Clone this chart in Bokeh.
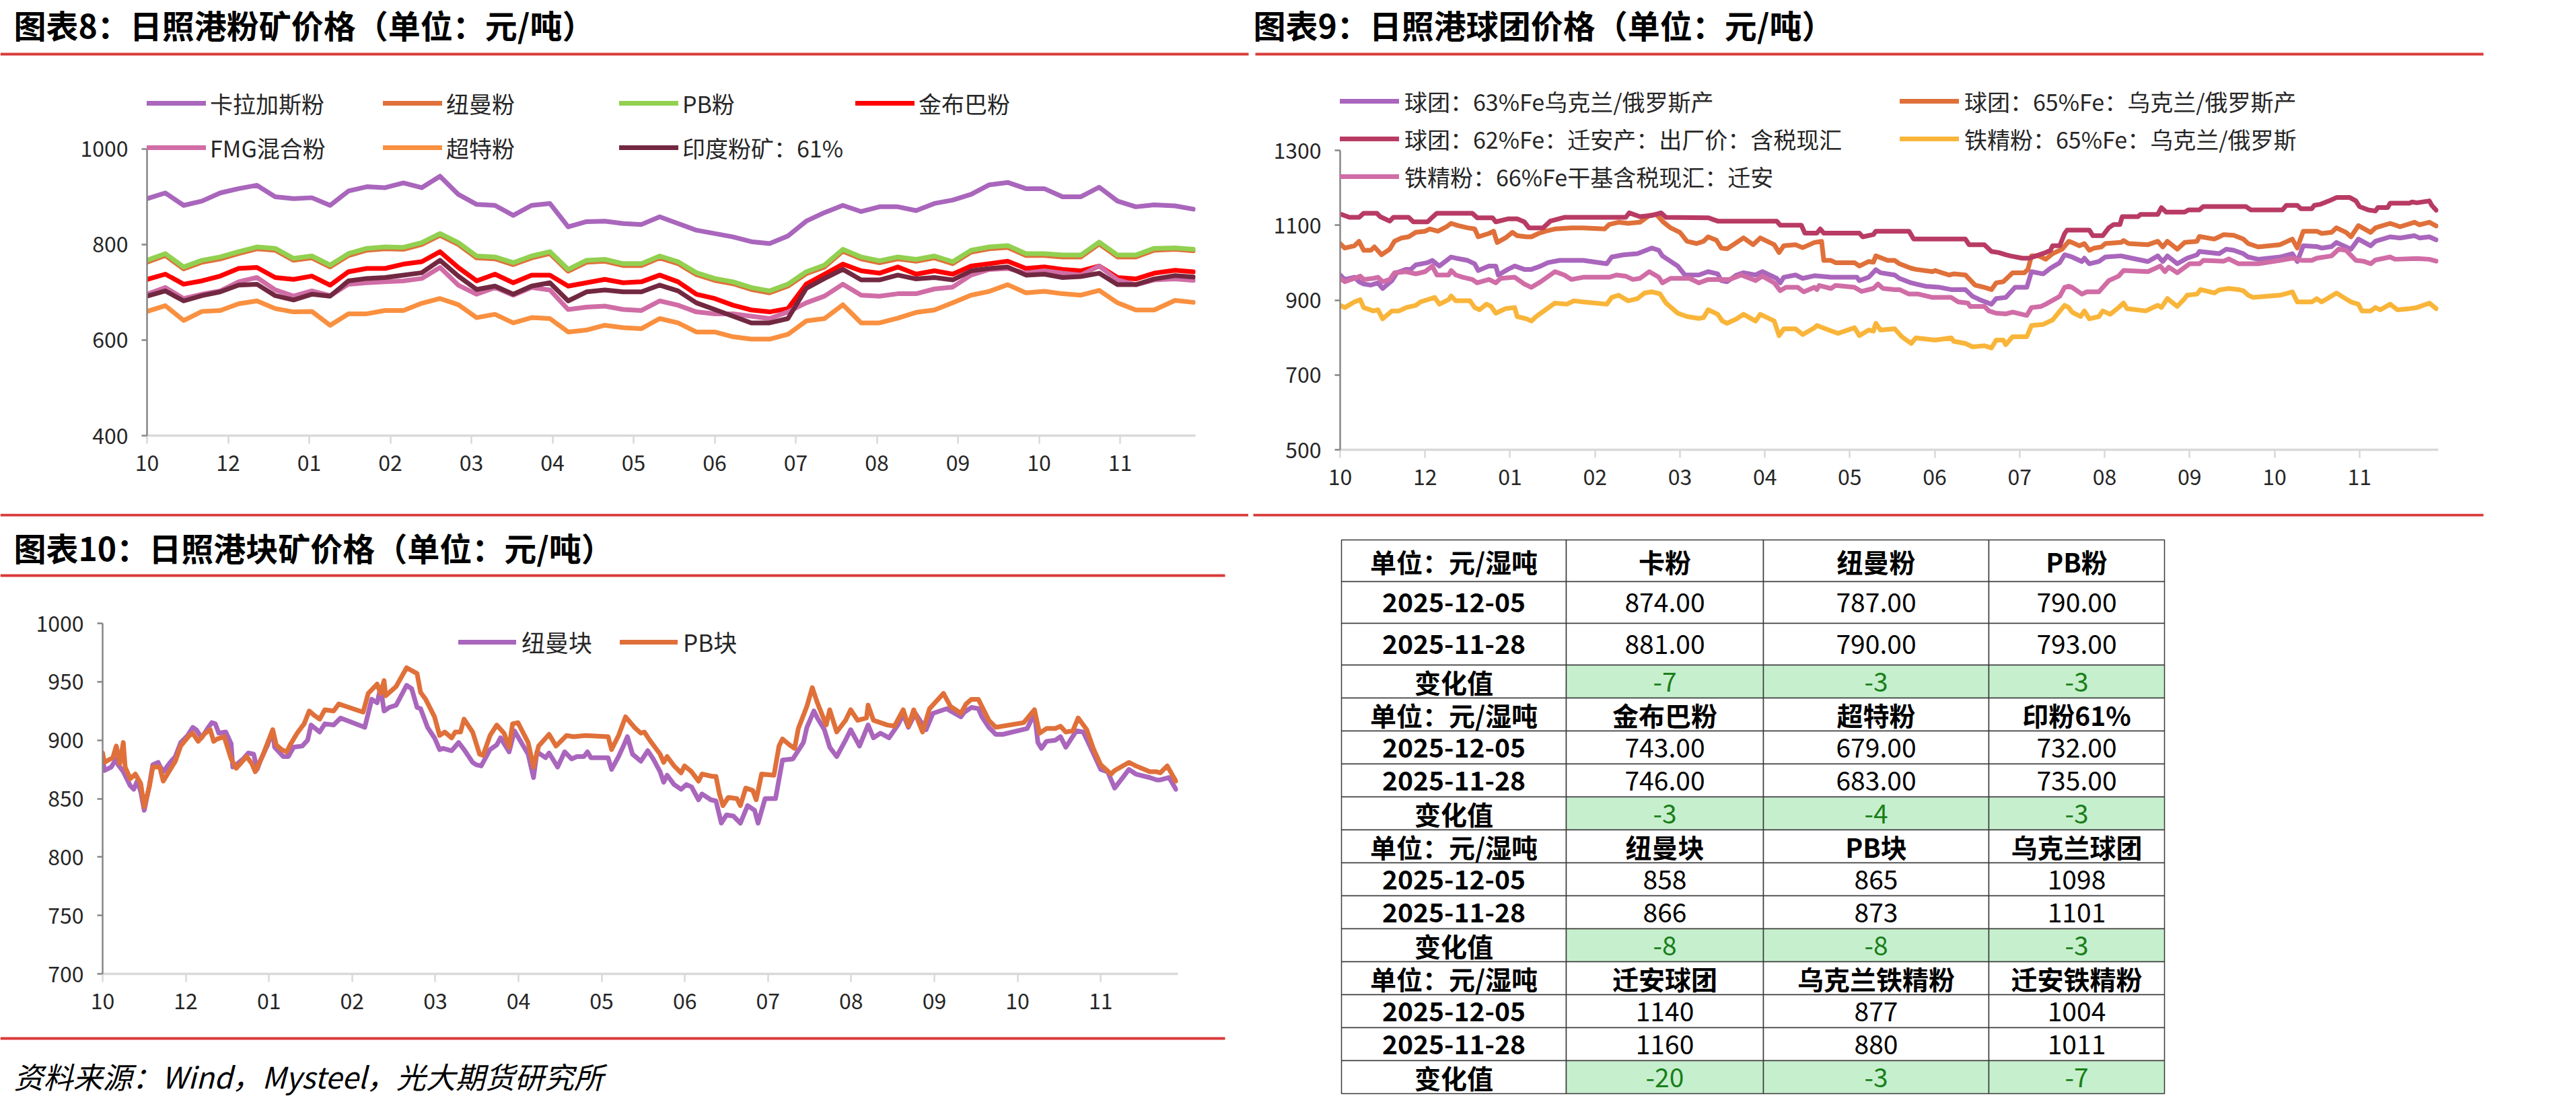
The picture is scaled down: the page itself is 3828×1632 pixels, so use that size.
from bokeh.plotting import figure
from bokeh.layouts import column, row
from bokeh.models import Range1d, Legend, LegendItem, FixedTicker
from bokeh.core.properties import value
from bokeh.embed import file_html
from bokeh.resources import INLINE

FONT = "Noto Sans CJK SC"

# ---------------- data ----------------
# day offsets from 2024-10-31 (last two points: 2025-11-28, 2025-12-05)
DAYS = [0, 7, 14, 21, 28, 35, 42, 49, 56, 63, 70, 77, 84, 91, 98, 105, 112, 119, 126,
        133, 140, 147, 154, 161, 168, 175, 182, 189, 196, 203, 210, 217, 224, 231, 238,
        245, 252, 259, 266, 273, 280, 287, 294, 301, 308, 315, 322, 329, 336, 343, 350,
        357, 364, 371, 378, 385, 393, 400]
X_TICKS = [0, 31, 62, 93, 124, 155, 186, 217, 248, 279, 310, 341, 372]
X_LABELS = ["10", "12", "01", "02", "03", "04", "05", "06", "07", "08", "09", "10", "11"]

# chart 8: fines (weekly readings)
KARAJAS = [896, 908, 882, 891, 908, 917, 924, 900, 896, 898, 882, 912, 921, 919, 929, 919, 943, 905, 884,
           882, 861, 882, 886, 837, 848, 849, 844, 842, 858, 844, 830, 823, 816, 806, 802, 818, 849, 867, 882,
           869, 879, 879, 871, 886, 893, 905, 925, 930, 917, 917, 900, 900, 920, 891, 879, 883,
           881, 874]
NEWMAN_F = [763, 777, 749, 763, 770, 781, 791, 788, 767, 772, 753, 777, 788, 791, 790, 800, 819, 800, 772,
            770, 758, 772, 781, 744, 763, 765, 756, 756, 772, 760, 737, 725, 718, 706, 699, 713, 739, 753, 786,
            770, 762, 770, 765, 772, 760, 784, 791, 794, 777, 777, 774, 774, 801, 774, 774, 788,
            790, 787]
PB_F = [767, 781, 753, 767, 774, 785, 795, 792, 771, 776, 757, 781, 792, 795, 794, 804, 823, 804, 776,
        774, 762, 776, 785, 748, 767, 769, 760, 760, 776, 764, 741, 729, 722, 710, 703, 717, 743, 757, 790,
        774, 766, 774, 769, 776, 764, 788, 795, 798, 781, 781, 778, 778, 805, 778, 778, 792,
        793, 790]
JMB_F = [727, 738, 717, 724, 734, 750, 752, 731, 727, 734, 715, 743, 750, 750, 759, 764, 785, 752, 724,
         738, 720, 736, 736, 713, 720, 727, 720, 722, 736, 722, 696, 687, 673, 663, 659, 666, 717, 738, 759,
         745, 740, 753, 738, 745, 738, 755, 760, 765, 750, 753, 748, 745, 755, 731, 728, 740,
         746, 743]
FMG_F = [696, 710, 687, 696, 703, 722, 731, 705, 692, 703, 693, 717, 720, 722, 724, 729, 752, 715, 696,
         710, 694, 710, 705, 664, 669, 671, 664, 662, 682, 673, 659, 655, 655, 650, 645, 659, 678, 692, 717,
         694, 692, 697, 697, 707, 711, 736, 748, 750, 740, 745, 740, 736, 755, 726, 716, 726,
         728, 725]
SUPER_F = [660, 672, 641, 660, 662, 676, 682, 666, 659, 660, 631, 655, 655, 662, 662, 677, 687, 674, 647,
           654, 636, 647, 645, 617, 621, 631, 626, 624, 645, 636, 617, 617, 607, 602, 602, 612, 640, 645, 674,
           636, 636, 646, 658, 663, 678, 694, 702, 716, 699, 702, 697, 694, 704, 678, 663, 663,
           683, 679]
INDIA_F = [692, 703, 682, 693, 701, 715, 717, 693, 684, 696, 692, 724, 729, 731, 736, 741, 767, 734, 706,
           713, 696, 713, 720, 682, 701, 705, 701, 701, 715, 703, 678, 664, 650, 636, 636, 645, 708, 729, 748,
           726, 726, 736, 728, 731, 726, 745, 750, 753, 736, 738, 731, 733, 740, 716, 716, 728,
           735, 732]
FINES_NAMES = ["卡拉加斯粉", "纽曼粉", "PB粉", "金布巴粉", "FMG混合粉", "超特粉", "印度粉矿：61%"]
FINES_COLORS = ["#A966BC", "#E0703A", "#92D050", "#FF0000", "#D06DA6", "#F99040", "#722841"]

# chart 9: pellets / concentrate, (day, price) read at the turning points of each line
PEL_63 = [(0, 967), (1.7, 955), (5.2, 961), (6.9, 949), (8.6, 943), (11.2, 940), (13.8, 946), (15.5, 931),
          (18.9, 952), (20.7, 973), (24.1, 982), (25.8, 982), (27.6, 994), (31.9, 1000), (33.6, 1006),
          (36.2, 991), (40.5, 1015), (42.2, 1012), (46.5, 1006), (49.1, 997), (50.4, 979), (54.3, 991),
          (56.8, 991), (57.7, 967), (61.2, 982), (63.7, 991), (67.2, 982), (69.8, 982), (73.2, 991),
          (75.8, 1000), (80.1, 1006), (88.7, 1006), (97.3, 997), (99.1, 1015), (103.4, 1021), (108.5, 1024),
          (113.7, 1039), (116.3, 1033), (117.6, 1018), (123.2, 991), (125.8, 967), (130.9, 967),
          (134.3, 976), (137.8, 970), (139.1, 952), (141.2, 949), (144.7, 967), (147.2, 973), (151.6, 967),
          (154.1, 976), (159.3, 958), (160.6, 946), (161.9, 961), (166.2, 967), (168.8, 958), (173.1, 965),
          (179.1, 961), (188.6, 961), (189.5, 952), (192.9, 961), (195.5, 981), (197.2, 973), (202.4, 967),
          (204.1, 958), (208.4, 946), (210.1, 943), (213.6, 937), (218.8, 934), (223.0, 928), (228.2, 928),
          (230.8, 910), (233.4, 901), (237.7, 889), (239.4, 904), (242.9, 907), (246.3, 934), (250.6, 934),
          (252.3, 976), (256.6, 970), (259.2, 985), (262.6, 1000), (264.4, 1021), (265.9, 1018),
          (267.1, 1015), (270.7, 1003), (271.6, 1012), (273.4, 997), (276.9, 1003), (279.2, 1015),
          (285.0, 1018), (286.8, 1015), (294.8, 1003), (298.4, 1018), (300.2, 1003), (301.9, 1018),
          (305.5, 997), (309.1, 1012), (312.7, 1021), (313.6, 1030), (320.8, 1024), (323.4, 1036),
          (326.1, 1033), (329.6, 1024), (331.4, 1015), (335.0, 1009), (343.0, 1015), (347.5, 1024),
          (349.3, 1003), (351.5, 1045), (356.4, 1043), (358.2, 1039), (361.8, 1043), (363.6, 1054),
          (366.2, 1045), (368.9, 1036), (371.6, 1063), (376.1, 1045), (377.8, 1057), (383.2, 1069),
          (386.8, 1066), (392.1, 1072), (393.9, 1066), (397.5, 1069), (400, 1061)]
PEL_65 = [(0, 1051), (1.7, 1039), (5.2, 1045), (6.9, 1057), (8.6, 1033), (11.2, 1033), (12.5, 1042),
          (15.1, 1021), (18.1, 1036), (19.8, 1057), (22.4, 1066), (25.0, 1069), (27.6, 1081), (31.0, 1084),
          (32.7, 1090), (35.7, 1084), (38.8, 1096), (40.5, 1105), (43.1, 1099), (46.5, 1093), (49.1, 1090),
          (50.4, 1069), (54.3, 1078), (56.0, 1084), (57.3, 1054), (60.3, 1066), (62.9, 1081), (64.6, 1072),
          (68.0, 1069), (69.8, 1069), (72.4, 1078), (74.9, 1084), (78.4, 1090), (84.4, 1093), (88.7, 1093),
          (96.5, 1090), (98.2, 1102), (101.6, 1108), (105.1, 1105), (109.4, 1108), (112.8, 1126),
          (115.4, 1129), (118.0, 1108), (120.6, 1093), (124.0, 1081), (126.6, 1057), (130.1, 1051),
          (132.6, 1057), (134.3, 1069), (137.3, 1060), (139.1, 1039), (141.2, 1037), (144.7, 1054),
          (147.2, 1066), (150.7, 1048), (153.3, 1066), (158.4, 1048), (160.2, 1027), (161.9, 1045),
          (166.2, 1048), (168.8, 1040), (173.1, 1054), (175.7, 1057), (176.5, 1006), (179.1, 1006),
          (180.8, 1000), (187.7, 1000), (189.5, 991), (192.9, 1003), (194.6, 1001), (195.5, 1018),
          (199.8, 1006), (202.4, 1006), (204.1, 997), (208.4, 985), (210.1, 982), (216.2, 976), (217.1, 979),
          (222.2, 967), (223.9, 970), (228.2, 967), (231.7, 940), (235.1, 934), (237.7, 928), (239.4, 946),
          (242.0, 949), (245.4, 973), (249.7, 973), (251.0, 982), (252.3, 1018), (254.9, 1018), (257.5, 1009),
          (260.0, 1024), (263.5, 1036), (265.9, 1057),
          (267.1, 1054), (269.8, 1045), (271.6, 1051), (273.4, 1033), (275.2, 1039), (277.8, 1042),
          (279.2, 1051), (285.0, 1054), (285.9, 1059), (287.7, 1051), (294.8, 1048), (298.4, 1057),
          (300.2, 1042), (301.9, 1057), (305.5, 1036), (308.2, 1054), (312.7, 1057), (313.6, 1070),
          (319.0, 1063), (320.8, 1069), (322.5, 1075), (326.1, 1073), (329.6, 1063), (331.4, 1051),
          (335.0, 1042), (343.0, 1048), (347.5, 1063), (349.3, 1039), (351.5, 1084), (356.4, 1084),
          (358.2, 1078), (361.8, 1081), (363.6, 1093), (367.1, 1081), (368.9, 1069), (371.6, 1099),
          (376.1, 1081), (377.8, 1093), (383.2, 1105), (386.8, 1096), (392.1, 1108), (393.9, 1101),
          (397.5, 1108), (400, 1098)]
PEL_62_QA = [(0, 1130), (3.4, 1121), (6.9, 1121), (8.6, 1132), (13.4, 1132), (14.6, 1123), (18.1, 1111),
             (19.4, 1121), (25.0, 1121), (26.7, 1109), (31.9, 1109), (33.6, 1121), (35.3, 1132), (48.2, 1132),
             (50.0, 1120), (55.6, 1120), (56.8, 1109), (61.2, 1117), (64.6, 1117), (67.2, 1109), (68.9, 1093),
             (74.1, 1093), (76.7, 1111), (81.8, 1121), (104.2, 1121), (105.5, 1133), (109.4, 1123),
             (113.7, 1126), (117.1, 1133), (118.9, 1121),
             (134.3, 1120), (137.8, 1111), (159.3, 1111), (160.6, 1100), (168.3, 1100), (169.6, 1079),
             (174.0, 1079), (175.2, 1090), (176.5, 1079), (189.5, 1079), (190.7, 1069), (194.6, 1075),
             (195.5, 1084), (207.6, 1084), (209.3, 1063), (228.2, 1063), (229.5, 1048), (235.1, 1048),
             (237.7, 1030), (240.3, 1027), (242.9, 1021), (244.6, 1018), (248.9, 1012), (251.5, 1012),
             (254.0, 1018), (257.5, 1027), (259.2, 1033), (260.0, 1045), (262.6, 1045), (264.4, 1078),
             (265.3, 1087), (273.4, 1087), (274.7, 1072), (278.3, 1072), (280.5, 1093), (282.3, 1102),
             (284.6, 1102), (285.4, 1123), (291.2, 1123), (292.1, 1129), (298.4, 1129), (299.7, 1147),
             (301.5, 1135), (308.2, 1135), (309.6, 1141), (313.6, 1141), (315.0, 1150), (330.5, 1150),
             (332.3, 1141), (343.9, 1141), (345.3, 1153), (349.3, 1153), (350.6, 1144), (354.6, 1144),
             (355.5, 1153), (357.8, 1156), (360.9, 1165), (363.6, 1174), (368.5, 1174), (370.7, 1165),
             (372.0, 1150), (375.2, 1141), (377.8, 1138), (378.7, 1147), (382.3, 1147), (383.2, 1159),
             (390.3, 1159), (391.2, 1162), (393.0, 1160), (397.5, 1165), (398.4, 1153), (400, 1140)]
CONC_65 = [(0, 886), (1.7, 880), (5.2, 895), (7.3, 901), (8.6, 880), (12.1, 871), (13.8, 874), (15.5, 850),
           (18.9, 871), (21.5, 871), (24.1, 880), (27.6, 886), (29.3, 895), (34.5, 907), (36.2, 889),
           (39.6, 901), (40.5, 911), (42.2, 898), (47.4, 898), (49.1, 880), (50.8, 874), (53.4, 889),
           (55.1, 883), (56.8, 865), (60.3, 877), (63.7, 880), (64.6, 856), (68.0, 850), (69.8, 844),
           (71.5, 856), (78.4, 892), (82.7, 889), (85.3, 898), (88.7, 895), (97.3, 889), (99.1, 907),
           (101.6, 913), (105.1, 898), (108.5, 904), (111.1, 919), (113.7, 922), (116.7, 917), (118.9, 892),
           (123.2, 865), (126.6, 856), (130.9, 851),
           (132.6, 853), (134.3, 874), (137.8, 862), (139.5, 844), (141.2, 838), (144.7, 850), (147.2, 862),
           (151.6, 844), (153.3, 862), (158.4, 844), (160.2, 805), (161.9, 823), (166.2, 823), (168.8, 808),
           (173.1, 826), (174.0, 832), (178.3, 820), (181.7, 811), (187.7, 826), (189.5, 805), (192.9, 820),
           (194.6, 817), (195.5, 838), (197.2, 820), (202.4, 823), (205.0, 802), (208.4, 784), (210.1, 799),
           (217.1, 793), (223.0, 799), (223.9, 790), (228.2, 784), (230.8, 775), (235.1, 778), (237.7, 772),
           (239.4, 793), (242.0, 793), (242.9, 781), (245.4, 802), (250.6, 802), (252.3, 832), (256.6, 835),
           (260.0, 847), (264.4, 886), (265.9, 880),
           (267.1, 868), (270.2, 856), (271.6, 871), (273.4, 850), (276.9, 856), (278.3, 871), (281.0, 862),
           (284.1, 880), (285.9, 892), (287.2, 877), (294.0, 871), (298.4, 886), (299.7, 880), (301.9, 904),
           (305.5, 883), (308.2, 904), (309.1, 913), (312.7, 916), (314.0, 928), (319.0, 919), (320.8, 927),
           (324.3, 931), (327.9, 928), (329.6, 925), (331.4, 913), (333.2, 907), (343.0, 913), (347.5, 922),
           (349.3, 895), (354.6, 895), (356.4, 904), (358.2, 895), (361.8, 911), (363.6, 919), (366.2, 907),
           (368.9, 895), (371.6, 889), (372.9, 871), (376.1, 871), (377.8, 880), (379.6, 874), (383.2, 889),
           (385.9, 874), (390.3, 877), (393.0, 880), (397.5, 892), (400, 877)]
CONC_66_QA = [(0, 958), (1.7, 949), (5.2, 958), (7.3, 964), (8.6, 955), (12.1, 958), (13.8, 961), (15.5, 949),
              (18.1, 955), (19.8, 973), (24.1, 976), (27.6, 970), (31.0, 976), (33.6, 991), (35.3, 967),
              (39.6, 967), (40.5, 979), (42.2, 967), (44.8, 961), (48.2, 955), (50.0, 946), (54.3, 955),
              (56.8, 946), (58.6, 958), (63.7, 961), (67.2, 943), (69.8, 934), (73.2, 949), (78.4, 976),
              (81.8, 967), (84.4, 955), (88.7, 961), (98.2, 961), (100.8, 967), (104.2, 964), (106.8, 955),
              (109.4, 958), (112.8, 976), (116.3, 961), (117.6, 946), (120.6, 958), (127.5, 958), (130.9, 946),
              (134.3, 955), (138.6, 955), (142.1, 955), (146.4, 967), (151.6, 952), (154.1, 964), (158.4, 946),
              (160.6, 925), (162.7, 934), (167.0, 934), (169.2, 922), (173.1, 934), (174.0, 928), (174.8, 939),
              (179.1, 931), (180.8, 939), (187.7, 934), (190.3, 923), (194.6, 931), (196.3, 943), (198.1, 931),
              (202.4, 928), (204.1, 928), (207.6, 916), (211.0, 916), (216.2, 907), (223.0, 907), (225.6, 895),
              (229.1, 892), (229.9, 883), (235.1, 883), (236.8, 871), (239.4, 865), (242.9, 863), (245.4, 868),
              (250.6, 859), (252.3, 880), (255.8, 883), (257.5, 889), (262.6, 910), (264.4, 934), (265.9, 937),
              (267.1, 934), (270.7, 916), (272.5, 922), (276.9, 922), (280.5, 952), (284.1, 964), (285.9, 979),
              (294.8, 976), (299.3, 991), (301.0, 976), (302.4, 988), (305.5, 973), (310.0, 997), (313.6, 997),
              (315.0, 1006), (322.5, 1004), (324.3, 1010), (327.9, 997), (335.0, 997), (343.0, 1006),
              (347.5, 1012), (351.1, 1006), (354.6, 1006), (356.4, 1012), (361.8, 1018), (364.4, 1036),
              (367.1, 1033), (370.7, 1006), (373.4, 1004), (376.1, 997), (377.8, 1007), (383.2, 1015),
              (385.0, 1009), (393.0, 1011), (397.5, 1009), (400, 1004)]
PEL_NAMES = ["球团：63%Fe乌克兰/俄罗斯产", "球团：65%Fe：乌克兰/俄罗斯产", "球团：62%Fe：迁安产：出厂价：含税现汇",
             "铁精粉：65%Fe：乌克兰/俄罗斯", "铁精粉：66%Fe干基含税现汇：迁安"]
PEL_COLORS = ["#A966BC", "#E0703A", "#B83B64", "#F9B53A", "#D06DA6"]

# chart 10: lump (read at the turning points of each line)
NEWMAN_LUMP_DAYS = [0, 0.6, 3.2, 5.1, 5.8, 7.7, 10.3, 11.6, 12.9, 14.2, 15.5, 17.4, 18.7, 20.7, 21.3, 22.6,
                    25.2, 27.1, 29.1, 31.7, 33.6, 34.9, 36.9, 39.4, 40.7, 42.0, 43.3, 45.9, 47.9, 48.5, 49.8,
                    52.4, 54.3, 56.3, 57.6, 58.9, 61.5, 63.4, 64.1, 67.3, 69.2, 71.2, 74.4, 76.4, 77.7, 80.9,
                    82.8, 86.1, 88.7, 97.7, 100.3, 102.3, 103.6, 104.9, 106.8, 109.4, 113.3, 115.2, 117.2,
                    118.5, 121.1, 123.7, 125.6, 126.9, 130.1, 132.7, 134.7, 137.9, 139.2, 141.1, 144.4, 146.9,
                    148.3, 151.5, 153.5, 158.6, 160.6, 161.9, 165.1, 166.4, 169.6, 172.2, 174.8, 176.8, 179.4,
                    180.7, 182.0, 188.4, 189.7, 192.3, 194.3, 195.6, 197.5,
                    200.6, 203.2, 205.2, 207.8, 209.1, 210.4, 213.0, 215.6, 217.6, 219.5, 222.1, 223.4, 226.7,
                    228.6, 230.6, 232.5, 235.1, 237.7, 240.4, 243.0, 244.3, 246.9, 250.8, 253.4, 257.3, 261.2,
                    262.5, 265.1, 266.4, 269.0, 271.0, 273.6, 276.9, 278.8, 282.1, 285.3, 287.3, 289.9, 293.1,
                    296.4, 298.4, 300.3, 302.9, 306.9, 309.5, 312.1, 314.7, 316.0, 319.9, 321.2, 323.8, 326.4,
                    327.7, 330.3, 332.9, 335.5, 344.6, 347.3, 348.6, 349.9, 351.8, 355.1, 357.0, 359.0, 362.9,
                    365.5, 369.4, 372.0, 374.6, 377.2, 379.9, 382.5, 385.1, 390.3, 392.9, 394.2, 397.5, 400]
NEWMAN_LUMP = [888, 874, 877, 884, 879, 873, 861, 858, 865, 856, 840, 861, 879, 881, 878, 873,
               881, 886, 898, 904, 911, 909, 902, 911, 915, 914, 906, 907, 897, 877, 879,
               884, 889, 888, 875, 883, 896, 908, 894, 886, 886, 894, 895, 900, 913, 907,
               914, 913, 919, 911, 935, 932, 945, 925, 928, 930, 947, 944, 928,
               927, 911, 902, 892, 893, 891, 898, 892, 881, 879, 878, 892, 896,
               902, 890, 908, 888, 868, 890, 885, 889, 877, 890, 884, 886, 886,
               890, 885, 885, 875, 886, 896, 903, 888,
               882, 891, 884, 873, 864, 870, 862, 858, 862, 860, 849, 854, 849,
               848, 829, 836, 835, 829, 844, 840, 829, 850, 850, 883, 884, 898,
               911, 925, 919, 909, 894, 886, 900, 909, 895, 913, 902, 906, 902,
               913, 922, 911, 923, 909, 923, 925, 927, 925, 920, 924, 928, 927,
               920, 911, 905, 905, 910, 923, 898, 893, 899, 900, 903, 894, 908,
               907, 888, 875, 873, 859, 867, 875, 871, 868, 866, 866, 868, 858]
PB_LUMP_DAYS = [0, 0.6, 3.8, 5.1, 6.4, 7.7, 8.4, 10.3, 12.2, 14.2, 15.5, 17.4, 18.7, 21.3, 22.6, 25.2,
                27.1, 29.1, 32.3, 33.6, 35.6, 38.2, 40.1, 41.4, 42.7, 45.3, 47.9, 49.8, 53.7, 55.6, 56.9,
                59.5, 63.4, 64.7, 66.7, 68.6, 69.9, 72.5, 75.1, 77.0, 79.0, 80.9, 82.8, 86.1, 88.0, 97.1,
                99.0, 102.3, 103.6, 104.9, 105.5, 109.4, 113.3, 117.2, 118.5, 120.4, 123.7, 125.6, 127.5,
                130.1, 131.4, 133.4, 134.7, 137.9, 140.5, 141.8, 144.4, 146.9, 149.6, 151.5, 152.8, 154.8,
                158.6, 160.6, 162.5, 166.4, 169.0, 172.9, 175.5, 180.0, 188.4, 189.7, 192.3, 194.9, 198.2,
                200.6, 201.9, 203.9, 207.8, 209.1, 210.4, 213.0, 215.6, 216.9, 219.5, 222.1, 223.4, 227.3,
                228.6, 229.9, 231.2, 233.2, 236.4, 237.7, 239.7, 242.3, 243.6, 245.6, 250.2, 252.1, 253.4,
                256.0, 257.9, 259.3, 262.5, 264.5, 266.4, 269.7, 271.0, 273.6, 276.9, 278.8, 281.4, 284.7,
                285.3, 287.3, 292.5, 295.1, 298.4, 300.3, 302.3, 305.6, 308.2, 313.4, 316.0, 319.9, 321.8,
                323.8, 326.4, 327.7, 330.3, 332.9, 343.3, 347.3, 349.2, 351.8, 355.1, 357.0, 359.0, 361.6,
                363.6, 366.8, 369.4, 372.0, 375.9, 377.2, 382.5, 385.1, 390.3, 392.9, 394.2, 396.8, 400]
PB_LUMP = [889, 881, 885, 895, 880, 898, 877, 867, 871, 863, 843, 860, 877, 877, 865, 875,
           882, 895, 904, 906, 899, 906, 909, 899, 901, 903, 884, 876, 886, 880, 873,
           886, 909, 896, 892, 890, 896, 906, 914, 925, 921, 918, 926, 925, 931, 924,
           940, 948, 940, 951, 938, 946, 962, 957, 941, 935, 920, 904, 907,
           902, 907, 907, 918, 907, 888, 887, 904, 913, 906, 894, 914, 915,
           898, 877, 895, 905, 895, 904, 903, 904, 903, 892, 904, 920, 911,
           906, 907, 900, 888, 881, 886, 878, 872, 878, 873, 865, 871, 869,
           869, 854, 844, 851, 850, 844, 859, 857, 849, 871, 870, 895, 901,
           896, 893, 910, 929, 945, 932, 913, 926, 907, 917, 926, 917, 919,
           930, 917, 913, 912, 926, 912, 926, 907, 927, 940, 929, 923, 931,
           935, 935, 929, 917, 911, 915, 926, 906, 910, 910, 912, 907, 908,
           919, 909, 892, 879, 871, 874, 881, 878, 873, 873, 872, 878, 865]
LUMP_NAMES = ["纽曼块", "PB块"]
LUMP_COLORS = ["#A966BC", "#E0703A"]

# table
DATE_CUR = "2025-12-05"
DATE_PREV = "2025-11-28"
UNIT_LABEL = "单位：元/湿吨"
CHANGE_LABEL = "变化值"
TABLE_ITEMS = [["卡粉", "纽曼粉", "PB粉"], ["金布巴粉", "超特粉", "印粉61%"],
               ["纽曼块", "PB块", "乌克兰球团"], ["迁安球团", "乌克兰铁精粉", "迁安铁精粉"]]
TABLE_CUR = [["874.00", "787.00", "790.00"], ["743.00", "679.00", "732.00"],
             ["858", "865", "1098"], ["1140", "877", "1004"]]
TABLE_PREV = [["881.00", "790.00", "793.00"], ["746.00", "683.00", "735.00"],
              ["866", "873", "1101"], ["1160", "880", "1011"]]
TABLE_CHG = [["-7", "-3", "-3"], ["-3", "-4", "-3"], ["-8", "-8", "-3"], ["-20", "-3", "-7"]]

TITLE8 = "图表8：日照港粉矿价格（单位：元/吨）"
TITLE9 = "图表9：日照港球团价格（单位：元/吨）"
TITLE10 = "图表10：日照港块矿价格（单位：元/吨）"
SOURCE = "资料来源：Wind，Mysteel，光大期货研究所"

RED = "#DA3A3A"
TXT = "#262626"


# ---------------- helpers ----------------
def deco_fig(w, h, x0, y0):
    p = figure(width=w, height=h, x_range=Range1d(x0, x0 + w), y_range=Range1d(y0 + h, y0),
               x_axis_type=None, y_axis_type=None, toolbar_location=None, output_backend="svg",
               min_border=0, outline_line_color=None, background_fill_color="white",
               border_fill_color="white")
    return p


def add_text(p, xs, ys, texts, size, align="left", style="normal", color=TXT):
    p.text(x=xs, y=ys, text=texts, text_font=value(FONT), text_font_size=value("%dpx" % size),
           text_align=align, text_baseline="middle", text_color=color, text_font_style=style)


def red_line(p, x0, x1, yc, th=4):
    p.quad(left=[x0], right=[x1], top=[yc - th / 2], bottom=[yc + th / 2],
           fill_color=RED, line_color=None)


def chart(width, height, yr, borders, yticks):
    l, r, t, b = borders
    p = figure(width=width, height=height, x_range=Range1d(0, 400.8), y_range=Range1d(*yr),
               toolbar_location=None, output_backend="svg",
               min_border_left=l, min_border_right=r, min_border_top=t, min_border_bottom=b,
               outline_line_color=None, background_fill_color="white", border_fill_color="white")
    p.xgrid.visible = False
    p.ygrid.visible = False
    xa = p.xaxis[0]
    ya = p.yaxis[0]
    xa.ticker = FixedTicker(ticks=X_TICKS)
    xa.major_label_overrides = {tk: lab for tk, lab in zip(X_TICKS, X_LABELS)}
    xa.axis_line_color = "#D9D9D9"
    xa.axis_line_width = 3.5
    xa.major_tick_line_color = "#D9D9D9"
    xa.major_tick_line_width = 2.5
    xa.major_tick_out = 12
    xa.major_tick_in = 0
    xa.minor_tick_line_color = None
    xa.major_label_standoff = 16
    ya.ticker = FixedTicker(ticks=yticks)
    ya.bounds = (yticks[0], yticks[-1])
    ya.axis_line_color = "#868686"
    ya.axis_line_width = 2.5
    ya.major_tick_line_color = "#868686"
    ya.major_tick_line_width = 2.5
    ya.major_tick_out = 8
    ya.major_tick_in = 0
    ya.minor_tick_line_color = None
    ya.major_label_standoff = 20
    for a in (xa, ya):
        a.major_label_text_font = FONT
        a.major_label_text_font_size = "32px"
        a.major_label_text_color = TXT
    return p


def add_series(p, series, names, colors, lw=7, days_list=None):
    items = []
    for i, (vals, name, col) in enumerate(zip(series, names, colors)):
        days = DAYS if days_list is None else days_list[i]
        n = min(len(days), len(vals))
        r = p.line(list(days[:n]), list(vals[:n]), line_color=col, line_width=lw,
                   line_join="round", line_cap="round")
        items.append(LegendItem(label=name, renderers=[r]))
    return items


def style_legend(leg, size):
    leg.label_text_font = FONT
    leg.label_text_font_size = "%dpx" % size
    leg.label_text_color = TXT
    leg.border_line_color = None
    leg.background_fill_alpha = 0
    leg.margin = 0


# ---------------- header ----------------
W_L, W_R = 1855, 1973
header = deco_fig(3828, 110, 0, 0)
add_text(header, [20, 1862], [35, 35], [TITLE8, TITLE9], 48, style="bold", color="#000000")
red_line(header, 0, 1855, 80)
red_line(header, 1865, 3690, 80)

# ---------------- chart 8 ----------------
p1 = chart(W_L, 653, (400, 1130.9), (218, 79, 18, 116), [400, 600, 800, 1000])
items1 = add_series(p1, [KARAJAS, NEWMAN_F, PB_F, JMB_F, FMG_F, SUPER_F, INDIA_F], FINES_NAMES, FINES_COLORS)
# legend grid is filled column by column: order so rows read like the reference
leg1 = Legend(items=[items1[i] for i in (0, 4, 1, 5, 2, 6, 3)], location="top_left", ncols=4,
              glyph_width=88, glyph_height=50, label_standoff=6, label_width=241, label_height=50,
              spacing=16, padding=18)
style_legend(leg1, 34)
p1.add_layout(leg1)

# ---------------- chart 9 ----------------
p2 = chart(W_R, 653, (500, 1476.2), (136, 205, 15, 95), [500, 700, 900, 1100, 1300])
pel_series = [PEL_63, PEL_65, PEL_62_QA, CONC_65, CONC_66_QA]
items2 = add_series(p2, [[v for _, v in s] for s in pel_series], PEL_NAMES, PEL_COLORS,
                    days_list=[[d for d, _ in s] for s in pel_series])
leg2 = Legend(items=[items2[i] for i in (0, 2, 4, 1, 3)], location="top_left", ncols=2,
              glyph_width=88, glyph_height=50, label_standoff=8, label_width=730, label_height=50,
              spacing=6, padding=0)
style_legend(leg2, 34)
p2.add_layout(leg2)

# ---------------- middle (left) ----------------
mid = deco_fig(W_L, 117, 0, 763)
red_line(mid, 0, 1855, 765)
add_text(mid, [20], [812], [TITLE10], 48, style="bold", color="#000000")
red_line(mid, 0, 1820, 855)

# ---------------- chart 10 ----------------
p3 = chart(W_L, 650, (700, 1000), (152, 105, 46, 83), [700, 750, 800, 850, 900, 950, 1000])
items3 = add_series(p3, [NEWMAN_LUMP, PB_LUMP], LUMP_NAMES, LUMP_COLORS,
                    days_list=[NEWMAN_LUMP_DAYS, PB_LUMP_DAYS])
leg3 = Legend(items=items3, location=(529, 468), orientation="horizontal", glyph_width=86,
              glyph_height=46, label_standoff=8, spacing=41, padding=0)
style_legend(leg3, 35)
p3.add_layout(leg3)

# ---------------- footer ----------------
footer = deco_fig(W_L, 102, 0, 1530)
red_line(footer, 0, 1820, 1543)
add_text(footer, [20], [1598], [SOURCE], 44, style="italic", color="#000000")

# ---------------- table ----------------
tab = deco_fig(W_R, 869, 1855, 763)
red_line(tab, 1862, 3690, 765)
col_edges = [1993, 2327, 2620, 2955, 3216]
row_edges = [802.0]
for i in range(16):
    row_edges.append(row_edges[-1] + (62.0 if i < 3 else 49.0))

cl, cr, ct, cb, cf = [], [], [], [], []
tx, ty, tt, tstyle, tcol = [], [], [], [], []
for b in range(4):
    rows = [[UNIT_LABEL] + TABLE_ITEMS[b], [DATE_CUR] + TABLE_CUR[b],
            [DATE_PREV] + TABLE_PREV[b], [CHANGE_LABEL] + TABLE_CHG[b]]
    for k, cells in enumerate(rows):
        ri = 4 * b + k
        top, bot = row_edges[ri], row_edges[ri + 1]
        for c, txt in enumerate(cells):
            left, right = col_edges[c], col_edges[c + 1]
            green = (k == 3 and c > 0)
            cl.append(left); cr.append(right); ct.append(top); cb.append(bot)
            cf.append("#C6EFCE" if green else "#FFFFFF")
            tx.append((left + right) / 2); ty.append((top + bot) / 2); tt.append(txt)
            tstyle.append("bold" if (c == 0 or k == 0) else "normal")
            tcol.append("#1A7F1A" if green else "#000000")

tab.quad(left=cl, right=cr, top=ct, bottom=cb, fill_color=cf, line_color="#3A3A3A", line_width=1.5)
for st in ("bold", "normal"):
    idx = [i for i in range(len(tt)) if tstyle[i] == st]
    tab.text(x=[tx[i] for i in idx], y=[ty[i] for i in idx], text=[tt[i] for i in idx],
             text_font=value(FONT), text_font_size=value("39px"), text_align="center",
             text_baseline="middle", text_color=[tcol[i] for i in idx], text_font_style=st)

# each figure is wrapped on its own so that the layout does not align the plot frames
layout = column(header,
                row(column(p1, spacing=0), column(p2, spacing=0), spacing=0),
                row(column(row(mid, spacing=0), row(p3, spacing=0), row(footer, spacing=0), spacing=0),
                    column(tab, spacing=0), spacing=0),
                spacing=0)

open("out.html", "w").write(file_html(layout, INLINE))
